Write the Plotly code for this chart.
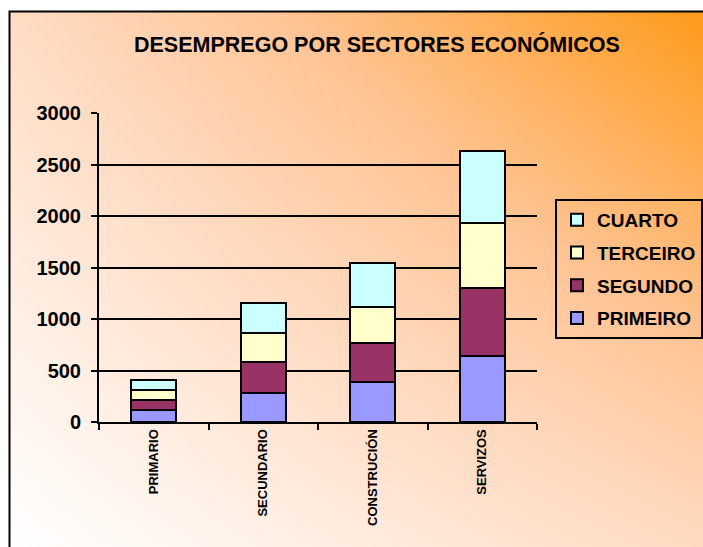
import plotly.graph_objects as go

W, H = 703, 547

categories = ["PRIMARIO", "SECUNDARIO", "CONSTRUCIÓN", "SERVIZOS"]
primeiro = [114, 282, 389, 639]
segundo = [104, 296, 377, 665]
terceiro = [90, 282, 353, 632]
cuarto = [104, 292, 422, 691]
series_names = ["PRIMEIRO", "SEGUNDO", "TERCEIRO", "CUARTO"]
series_colors = ["#9999FF", "#993366", "#FFFFCC", "#CCFFFF"]
y_ticks = [0, 500, 1000, 1500, 2000, 2500, 3000]
title_text = "DESEMPREGO POR SECTORES ECONÓMICOS"

FONT = "Liberation Sans, Arial, sans-serif"

# background gradient (style only)
n = 21
gx = [i / (n - 1) for i in range(n)]
gy = [j / (n - 1) for j in range(n)]
gz = [[xx * yy + 0.36 * xx * (1 - yy) + 0.34 * (1 - xx) * yy for xx in gx] for yy in gy]

fig = go.Figure()
fig.add_trace(go.Heatmap(
    x=gx, y=gy, z=gz, zmin=0, zmax=1, zsmooth="best", showscale=False,
    colorscale=[[0, "#FFFFFF"], [0.34, "#FFDCC4"], [0.6, "#FFC495"], [1, "#FF9A1A"]],
    hoverinfo="skip", xaxis="x", yaxis="y", showlegend=False,
))

for i, (name, vals, col) in enumerate(zip(series_names, [primeiro, segundo, terceiro, cuarto], series_colors)):
    fig.add_trace(go.Bar(
        x=categories, y=vals, name=name, legendgroup=name,
        legendrank=1000 - i,
        marker=dict(color=col, line=dict(color="black", width=2)),
        xaxis="x2", yaxis="y2",
    ))

fig.update_layout(
    width=W, height=H,
    margin=dict(l=0, r=0, t=0, b=0, pad=0, autoexpand=False),
    paper_bgcolor="white",
    plot_bgcolor="rgba(0,0,0,0)",
    barmode="stack",
    bargap=0.59,
    font=dict(family=FONT, color="black"),
    xaxis=dict(domain=[9 / W, 1], range=[0, 1], visible=False, fixedrange=True, automargin=False),
    yaxis=dict(domain=[0, 1 - 11 / H], range=[0, 1], visible=False, fixedrange=True, automargin=False),
    xaxis2=dict(
        domain=[99 / W, 537 / W], anchor="y2", type="category", automargin=False,
        showline=True, linecolor="black", linewidth=2,
        ticks="outside", ticklen=6, tickwidth=2, tickcolor="black",
        tickson="boundaries", tickangle=-90, showgrid=False,
        tickfont=dict(family=FONT, size=13, weight="bold", color="black"),
    ),
    yaxis2=dict(
        domain=[1 - 422 / H, 1 - 113 / H], anchor="x2", range=[0, 3000], automargin=False,
        tickvals=y_ticks, ticktext=[str(v) for v in y_ticks],
        showline=True, linecolor="black", linewidth=2,
        ticks="outside", ticklen=6, tickwidth=2, tickcolor="black",
        showgrid=True, gridcolor="black", gridwidth=2, zeroline=False,
        ticklabelstandoff=6,
        tickfont=dict(family=FONT, size=20, weight="bold", color="black"),
    ),
    legend=dict(
        x=555 / W, y=1 - 199 / H, xanchor="left", yanchor="top",
        traceorder="grouped", tracegroupgap=5,
        bgcolor="rgba(0,0,0,0)", bordercolor="black", borderwidth=2,
        font=dict(family=FONT, size=19, weight="bold", color="black"),
    ),
    shapes=[dict(
        type="rect", xref="paper", yref="paper",
        x0=9.5 / W, x1=1.02, y0=-0.02, y1=1 - 11.5 / H,
        line=dict(color="black", width=2), fillcolor="rgba(0,0,0,0)",
    )],
    annotations=[dict(
        text=title_text, xref="paper", yref="paper",
        x=377 / W, y=1 - 45 / H, xanchor="center", yanchor="middle",
        showarrow=False,
        font=dict(family=FONT, size=21.5, weight="bold", color="black"),
    )],
)

fig.write_html(
    "out.html",
    config={"displayModeBar": False},
    post_script="document.body.style.margin='0';document.body.style.overflow='hidden';",
)
